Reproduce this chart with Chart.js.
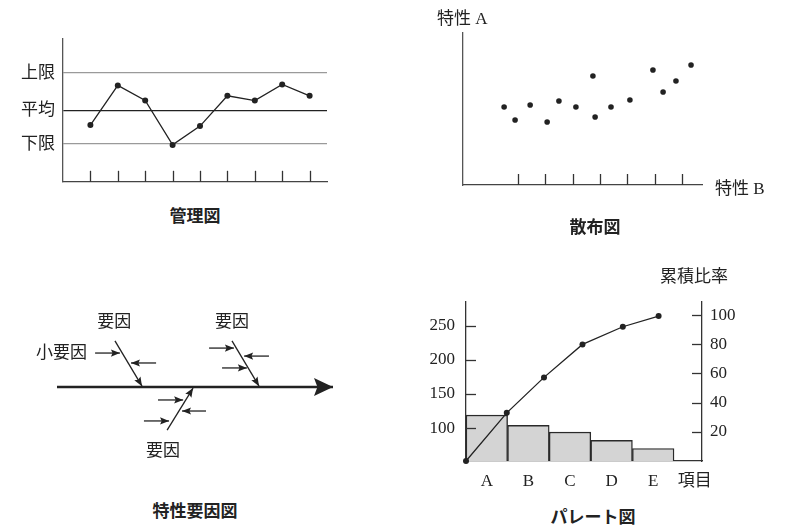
<!DOCTYPE html>
<html lang="ja">
<head>
    <meta charset="UTF-8">
    <title>QC 七つ道具</title>
    <script src="https://cdn.jsdelivr.net/npm/chart.js"></script>
    <style>
        body {
            margin: 0;
            width: 785px;
            height: 526px;
            position: relative;
            overflow: hidden;
            background: #fff;
            color: #222;
            font-family: 'Liberation Serif', 'Noto Sans CJK JP', serif;
        }
        .panel { position: absolute; }
        .caption {
            position: absolute;
            font-family: 'Noto Sans CJK JP', sans-serif;
            font-weight: bold;
            font-size: 17px;
            line-height: 1;
            white-space: nowrap;
            transform: translate(-50%, -50%);
        }
        .label {
            position: absolute;
            font-size: 17px;
            line-height: 1;
            white-space: nowrap;
            transform: translateY(-50%);
        }
    </style>
</head>
<body>
    <div class="panel" style="left:0;top:20px;width:340px;height:180px"><canvas id="controlChart"></canvas></div>
    <div class="panel" style="left:400px;top:20px;width:385px;height:180px"><canvas id="scatterChart"></canvas></div>
    <div class="panel" style="left:0;top:290px;width:360px;height:180px"><canvas id="fishboneChart"></canvas></div>
    <div class="panel" style="left:400px;top:280px;width:385px;height:220px"><canvas id="paretoChart"></canvas></div>

    <div class="label" style="left:437px;top:18px">特性 A</div>
    <div class="label" style="left:715px;top:188px">特性 B</div>
    <div class="label" style="left:660px;top:276px">累積比率</div>

    <div class="caption" style="left:195px;top:214px">管理図</div>
    <div class="caption" style="left:595px;top:225px">散布図</div>
    <div class="caption" style="left:195px;top:509px">特性要因図</div>
    <div class="caption" style="left:593px;top:515px">パレート図</div>

    <script>
    // 管理図
    const controlX = [1, 2, 3, 4, 5, 6, 7, 8, 9];
    const controlValues = [39.5, 67.1, 56.6, 25.7, 38.8, 59.9, 56.6, 67.8, 59.9];
    const limitLabels = ['下限', '平均', '上限'];
    const limitValues = [26.3, 49.3, 75.7];

    // 散布図
    const scatterB = [1.50, 1.90, 2.45, 3.07, 3.50, 4.12, 4.74, 4.82, 5.40, 6.09, 6.93, 7.30, 7.77, 8.32];
    const scatterA = [51.3, 42.8, 52.6, 41.4, 55.3, 51.3, 71.7, 44.7, 51.3, 55.9, 75.7, 61.2, 68.4, 78.9];
    const scatterTicks = [2, 3, 4, 5, 6, 7, 8];

    // 特性要因図 (spine along y = 0)
    const spine = [[0, 0], [100, 0]];
    const boneStart = [[21.0, 16.7], [63.4, 16.7], [39.9, -15.6]];
    const boneEnd = [[30.8, 0.3], [73.2, 0.3], [49.3, -0.4]];
    const twigStart = [[13.8, 12.3], [35.9, 8.7], [55.1, 14.1], [76.8, 11.2], [59.8, 6.9], [36.6, -4.7], [54.0, -8.7], [31.5, -12.3]];
    const twigEnd = [[22.8, 12.3], [26.8, 8.7], [64.1, 14.1], [67.8, 11.2], [68.8, 6.9], [45.7, -4.7], [45.3, -8.7], [40.6, -12.3]];
    const fishLabels = ['要因', '要因', '要因', '小要因'];
    const fishLabelPos = [[20.7, 23.2], [63.4, 23.2], [38.4, -23.2], [10.9, 12.3]];

    // パレート図
    const paretoItems = ['A', 'B', 'C', 'D', 'E', '項目'];
    const paretoCounts = [119, 104, 94, 82, 70];
    const cumX = [0, 0.98, 1.875, 2.80, 3.77, 4.63];
    const cumRatio = [0, 33.0, 57.3, 79.9, 92.0, 99.3];
    const countTicks = [100, 150, 200, 250];
    const ratioTicks = [20, 40, 60, 80, 100];

    const serif = "'Liberation Serif', 'Noto Sans CJK JP', serif";
    Chart.defaults.font.family = serif;
    Chart.defaults.font.size = 17;
    Chart.defaults.color = '#222';
    Chart.defaults.animation = false;
    Chart.defaults.responsive = true;
    Chart.defaults.maintainAspectRatio = false;
    Chart.defaults.plugins.legend.display = false;
    Chart.defaults.plugins.tooltip.enabled = false;

    // short tick marks drawn inward from the axis line
    const innerTicks = {
        id: 'innerTicks',
        afterDraw(chart, args, opts) {
            const ctx = chart.ctx;
            ctx.save();
            ctx.strokeStyle = '#333';
            ctx.lineWidth = 1.3;
            (opts.scales || []).forEach(s => {
                const scale = chart.scales[s.id];
                scale.ticks.forEach(t => {
                    const p = Math.round(scale.getPixelForValue(t.value)) + 0.5;
                    ctx.beginPath();
                    if (scale.isHorizontal()) {
                        ctx.moveTo(p, scale.top);
                        ctx.lineTo(p, scale.top - s.length);
                    } else if (scale.position === 'left') {
                        ctx.moveTo(scale.right, p);
                        ctx.lineTo(scale.right + s.length, p);
                    } else {
                        ctx.moveTo(scale.left, p);
                        ctx.lineTo(scale.left - s.length, p);
                    }
                    ctx.stroke();
                });
            });
            ctx.restore();
        }
    };

    // arrow heads at the end of every segment
    const arrowHeads = {
        id: 'arrowHeads',
        afterDatasetsDraw(chart) {
            const ctx = chart.ctx;
            ctx.save();
            ctx.fillStyle = '#222';
            chart.data.datasets.forEach((ds, i) => {
                const pts = chart.getDatasetMeta(i).data;
                const a = pts[pts.length - 2], b = pts[pts.length - 1];
                const ang = Math.atan2(b.y - a.y, b.x - a.x);
                const len = ds.arrowLen, half = ds.arrowHalf;
                ctx.save();
                ctx.translate(b.x, b.y);
                ctx.rotate(ang);
                ctx.beginPath();
                ctx.moveTo(0, 0);
                ctx.lineTo(-len, -half);
                ctx.lineTo(-len * 0.82, 0);
                ctx.lineTo(-len, half);
                ctx.closePath();
                ctx.fill();
                ctx.restore();
            });
            ctx.restore();
        }
    };

    const fishText = {
        id: 'fishText',
        afterDraw(chart) {
            const ctx = chart.ctx;
            const {x, y} = chart.scales;
            ctx.save();
            ctx.font = '17px ' + serif;
            ctx.fillStyle = '#222';
            ctx.textBaseline = 'middle';
            fishLabels.forEach((txt, i) => {
                ctx.textAlign = txt === '小要因' ? 'right' : 'center';
                ctx.fillText(txt, x.getPixelForValue(fishLabelPos[i][0]), y.getPixelForValue(fishLabelPos[i][1]));
            });
            ctx.restore();
        }
    };

    // 管理図
    new Chart(document.getElementById('controlChart'), {
        type: 'line',
        data: {
            datasets: [{
                data: controlX.map((x, i) => ({x: x, y: controlValues[i]})),
                borderColor: '#222',
                borderWidth: 1.3,
                pointRadius: 3,
                pointBackgroundColor: '#222',
                pointBorderWidth: 0
            }]
        },
        options: {
            layout: {padding: {top: 13, right: 13, left: 0, bottom: 0}},
            scales: {
                x: {
                    type: 'linear',
                    min: 0,
                    max: 9.635,
                    afterBuildTicks: s => { s.ticks = controlX.map(v => ({value: v})); },
                    afterFit: s => { s.height = 15; },
                    ticks: {display: false},
                    grid: {display: false},
                    border: {color: '#444', width: 1.3}
                },
                y: {
                    min: 0,
                    max: 100,
                    afterBuildTicks: s => { s.ticks = limitValues.map(v => ({value: v})); },
                    afterFit: s => { s.width = 63; },
                    ticks: {padding: 8, callback: (v, i) => limitLabels[i]},
                    grid: {drawTicks: false, lineWidth: 1.3, color: c => c.index === 1 ? '#222' : '#9a9a9a'},
                    border: {color: '#555', width: 1.3}
                }
            },
            plugins: {innerTicks: {scales: [{id: 'x', length: 11}]}}
        },
        plugins: [innerTicks]
    });

    // 散布図
    new Chart(document.getElementById('scatterChart'), {
        type: 'scatter',
        data: {
            datasets: [{
                data: scatterB.map((x, i) => ({x: x, y: scatterA[i]})),
                pointRadius: 2.8,
                pointBackgroundColor: '#222',
                pointBorderWidth: 0
            }]
        },
        options: {
            layout: {padding: {top: 13, right: 83, left: 0, bottom: 0}},
            scales: {
                x: {
                    min: 0,
                    max: 8.72,
                    afterBuildTicks: s => { s.ticks = scatterTicks.map(v => ({value: v})); },
                    afterFit: s => { s.height = 15; },
                    ticks: {display: false},
                    grid: {display: false},
                    border: {color: '#444', width: 1.3}
                },
                y: {
                    min: 0,
                    max: 100,
                    afterFit: s => { s.width = 63; },
                    ticks: {display: false},
                    grid: {display: false},
                    border: {color: '#555', width: 1.3}
                }
            },
            plugins: {innerTicks: {scales: [{id: 'x', length: 11}]}}
        },
        plugins: [innerTicks]
    });

    // 特性要因図
    const fishSegments = [{pts: spine, w: 2.6, len: 19, half: 9}]
        .concat(boneStart.map((p, i) => ({pts: [p, boneEnd[i]], w: 1.3, len: 9, half: 3.6})))
        .concat(twigStart.map((p, i) => ({pts: [p, twigEnd[i]], w: 1.3, len: 9, half: 3.6})));

    new Chart(document.getElementById('fishboneChart'), {
        type: 'scatter',
        data: {
            datasets: fishSegments.map(seg => ({
                data: seg.pts.map(p => ({x: p[0], y: p[1]})),
                showLine: true,
                borderColor: '#222',
                borderWidth: seg.w,
                pointRadius: 0,
                arrowLen: seg.len,
                arrowHalf: seg.half
            }))
        },
        options: {
            layout: {padding: 0},
            scales: {
                x: {display: false, min: -20.65, max: 109.78},
                y: {display: false, min: -30.07, max: 35.14}
            }
        },
        plugins: [arrowHeads, fishText]
    });

    // パレート図
    new Chart(document.getElementById('paretoChart'), {
        type: 'bar',
        data: {
            datasets: [{
                type: 'bar',
                order: 2,
                data: paretoCounts.map((v, i) => ({x: i + 0.5, y: v})),
                backgroundColor: '#d4d4d4',
                borderColor: '#2a2a2a',
                borderWidth: 1.4,
                barPercentage: 1,
                categoryPercentage: 1,
                yAxisID: 'y'
            }, {
                type: 'line',
                order: 1,
                data: cumX.map((x, i) => ({x: x, y: cumRatio[i]})),
                yAxisID: 'y1',
                borderColor: '#222',
                borderWidth: 1.3,
                pointRadius: 3,
                pointBackgroundColor: '#222',
                pointBorderWidth: 0,
                clip: false
            }]
        },
        options: {
            layout: {padding: {top: 18, right: 0, left: 0, bottom: 0}},
            scales: {
                x: {
                    type: 'linear',
                    min: 0,
                    max: 5.673,
                    offset: false,
                    afterBuildTicks: s => { s.ticks = paretoItems.map((n, i) => ({value: i + 0.5})); },
                    afterFit: s => { s.height = 39; },
                    ticks: {padding: 10, autoSkip: false, maxRotation: 0, callback: (v, i) => paretoItems[i]},
                    grid: {display: false, offset: false, drawTicks: false},
                    border: {color: '#333', width: 1.3}
                },
                y: {
                    position: 'left',
                    min: 51.7,
                    max: 285.9,
                    beginAtZero: false,
                    afterBuildTicks: s => { s.ticks = countTicks.map(v => ({value: v})); },
                    afterFit: s => { s.width = 66; },
                    ticks: {padding: 11},
                    grid: {display: false, drawTicks: false},
                    border: {color: '#333', width: 1.3}
                },
                y1: {
                    position: 'right',
                    min: 0,
                    max: 109.5,
                    afterBuildTicks: s => { s.ticks = ratioTicks.map(v => ({value: v})); },
                    afterFit: s => { s.width = 83; },
                    ticks: {padding: 8},
                    grid: {display: false, drawTicks: false},
                    border: {color: '#333', width: 1.3}
                }
            },
            plugins: {innerTicks: {scales: [{id: 'y', length: 10}, {id: 'y1', length: 10}]}}
        },
        plugins: [innerTicks]
    });
    </script>
</body>
</html>
